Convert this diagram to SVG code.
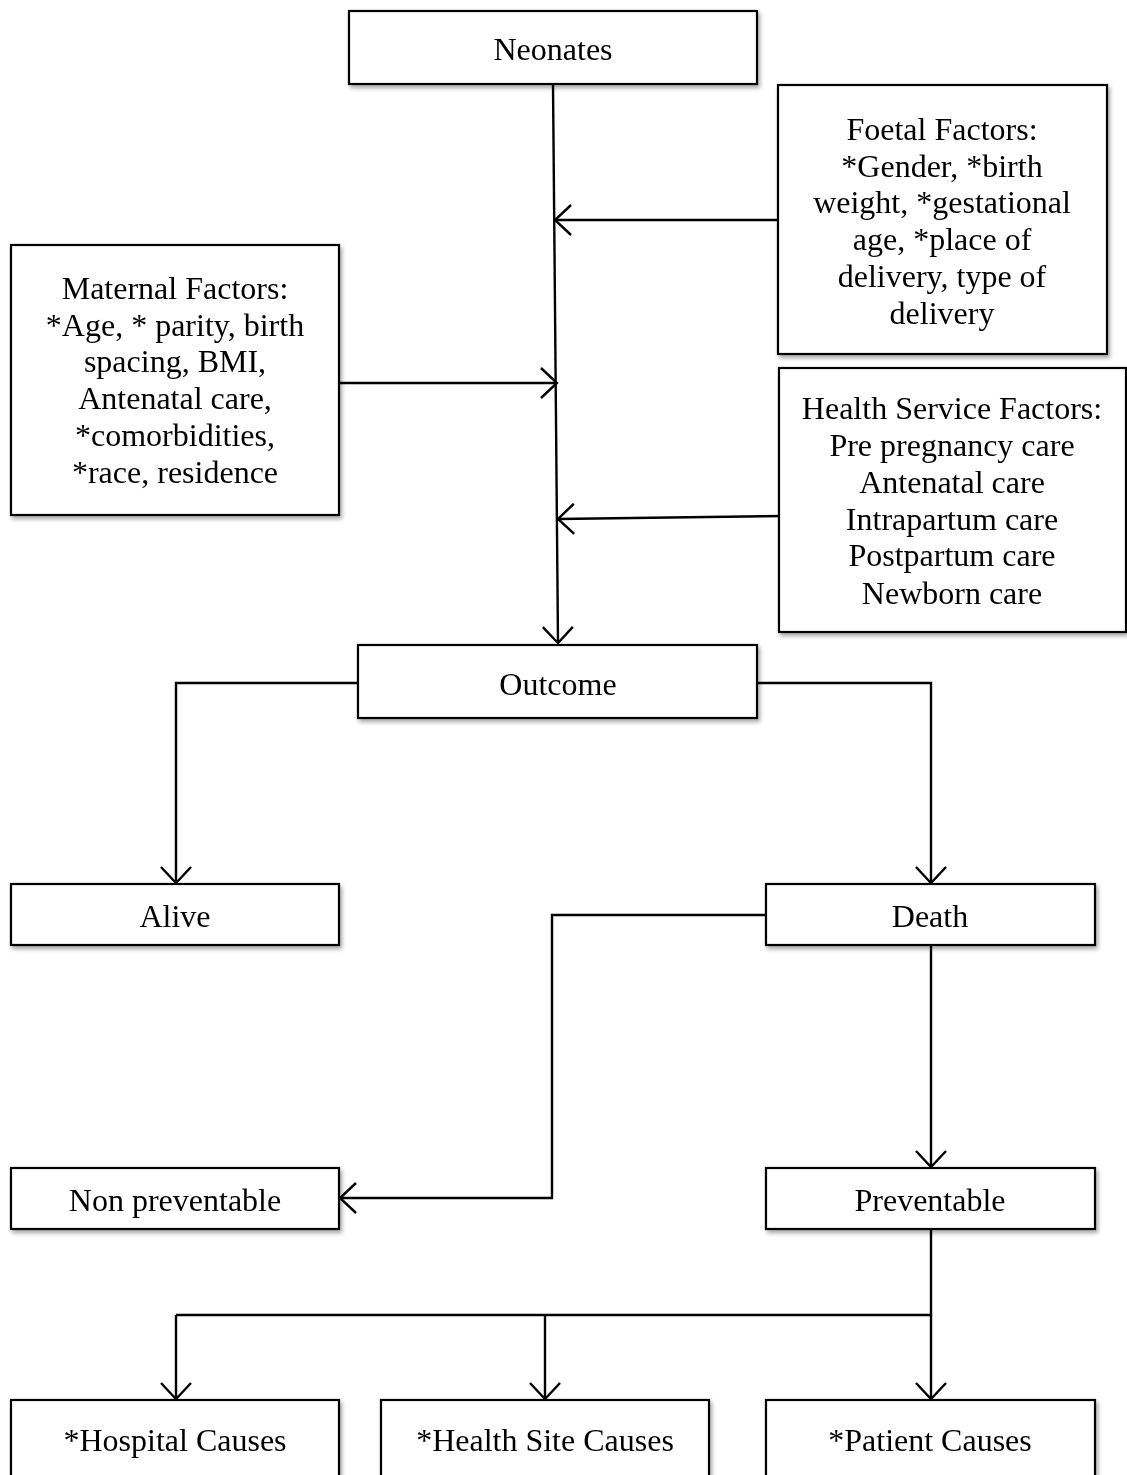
<svg xmlns="http://www.w3.org/2000/svg" width="1127" height="1475" viewBox="0 0 1127 1475">
<defs>
<filter id="sh" x="-10%" y="-10%" width="130%" height="130%">
<feGaussianBlur in="SourceAlpha" stdDeviation="2"/>
<feOffset dx="2" dy="3" result="b"/>
<feComponentTransfer><feFuncA type="linear" slope="0.35"/></feComponentTransfer>
<feMerge><feMergeNode/><feMergeNode in="SourceGraphic"/></feMerge>
</filter>
<marker id="ah" viewBox="0 0 20 32" refX="17" refY="16" markerWidth="20" markerHeight="32" markerUnits="userSpaceOnUse" orient="auto">
<path d="M1,1 L17,16 L1,31" fill="none" stroke="#000" stroke-width="2.4"/>
</marker>
</defs>
<style>
.box{fill:#fff;stroke:#000;stroke-width:2.2}
.t{font-family:"Liberation Serif","Times New Roman",serif;font-size:32px;fill:#000;text-anchor:middle}
.c{fill:none;stroke:#000;stroke-width:2.4}
</style>
<rect width="1127" height="1475" fill="#fff"/>
<g id="connectors">
<path class="c" d="M553,84 L558,643" marker-end="url(#ah)"/>
<path class="c" d="M778,220 L555,220" marker-end="url(#ah)"/>
<path class="c" d="M339,383 L557,383" marker-end="url(#ah)"/>
<path class="c" d="M782,516 L558,519" marker-end="url(#ah)"/>
<path class="c" d="M358,683 L176,683 L176,883" marker-end="url(#ah)"/>
<path class="c" d="M757,683 L931,683 L931,883" marker-end="url(#ah)"/>
<path class="c" d="M766,915 L552,915 L552,1198 L340,1198" marker-end="url(#ah)"/>
<path class="c" d="M931,945 L931,1167" marker-end="url(#ah)"/>
<path class="c" d="M931,1229 L931,1315 L176,1315"/>
<path class="c" d="M176,1315 L176,1399" marker-end="url(#ah)"/>
<path class="c" d="M545,1315 L545,1399" marker-end="url(#ah)"/>
<path class="c" d="M931,1315 L931,1399" marker-end="url(#ah)"/>
</g>
<g id="neonates" filter="url(#sh)"><rect class="box" x="349" y="11" width="408" height="73"/><text class="t" x="553" y="60">Neonates</text></g>
<g id="foetal" filter="url(#sh)"><rect class="box" x="778" y="85" width="329" height="269"/>
<text class="t" x="942" y="140">Foetal Factors:</text>
<text class="t" x="942" y="177">*Gender, *birth</text>
<text class="t" x="942" y="213">weight, *gestational</text>
<text class="t" x="942" y="250">age, *place of</text>
<text class="t" x="942" y="287">delivery, type of</text>
<text class="t" x="942" y="324">delivery</text></g>
<g id="maternal" filter="url(#sh)"><rect class="box" x="11" y="245" width="328" height="270"/>
<text class="t" x="175" y="299">Maternal Factors:</text>
<text class="t" x="175" y="336">*Age, * parity, birth</text>
<text class="t" x="175" y="372">spacing, BMI,</text>
<text class="t" x="175" y="409">Antenatal care,</text>
<text class="t" x="175" y="446">*comorbidities,</text>
<text class="t" x="175" y="483">*race, residence</text></g>
<g id="health" filter="url(#sh)"><rect class="box" x="779" y="368" width="347" height="264"/>
<text class="t" x="952" y="419">Health Service Factors:</text>
<text class="t" x="952" y="456">Pre pregnancy care</text>
<text class="t" x="952" y="493">Antenatal care</text>
<text class="t" x="952" y="530">Intrapartum care</text>
<text class="t" x="952" y="566">Postpartum care</text>
<text class="t" x="952" y="604">Newborn care</text></g>
<g id="outcome" filter="url(#sh)"><rect class="box" x="358" y="645" width="399" height="73"/><text class="t" x="558" y="695">Outcome</text></g>
<g id="alive" filter="url(#sh)"><rect class="box" x="11" y="884" width="328" height="61"/><text class="t" x="175" y="927">Alive</text></g>
<g id="death" filter="url(#sh)"><rect class="box" x="766" y="884" width="329" height="61"/><text class="t" x="930" y="927">Death</text></g>
<g id="nonpreventable" filter="url(#sh)"><rect class="box" x="11" y="1168" width="328" height="61"/><text class="t" x="175" y="1211">Non preventable</text></g>
<g id="preventable" filter="url(#sh)"><rect class="box" x="766" y="1168" width="329" height="61"/><text class="t" x="930" y="1211">Preventable</text></g>
<g id="hospital" filter="url(#sh)"><rect class="box" x="11" y="1400" width="328" height="90"/><text class="t" x="175" y="1451">*Hospital Causes</text></g>
<g id="healthsite" filter="url(#sh)"><rect class="box" x="381" y="1400" width="328" height="90"/><text class="t" x="545" y="1451">*Health Site Causes</text></g>
<g id="patient" filter="url(#sh)"><rect class="box" x="766" y="1400" width="329" height="90"/><text class="t" x="930" y="1451">*Patient Causes</text></g>
</svg>
